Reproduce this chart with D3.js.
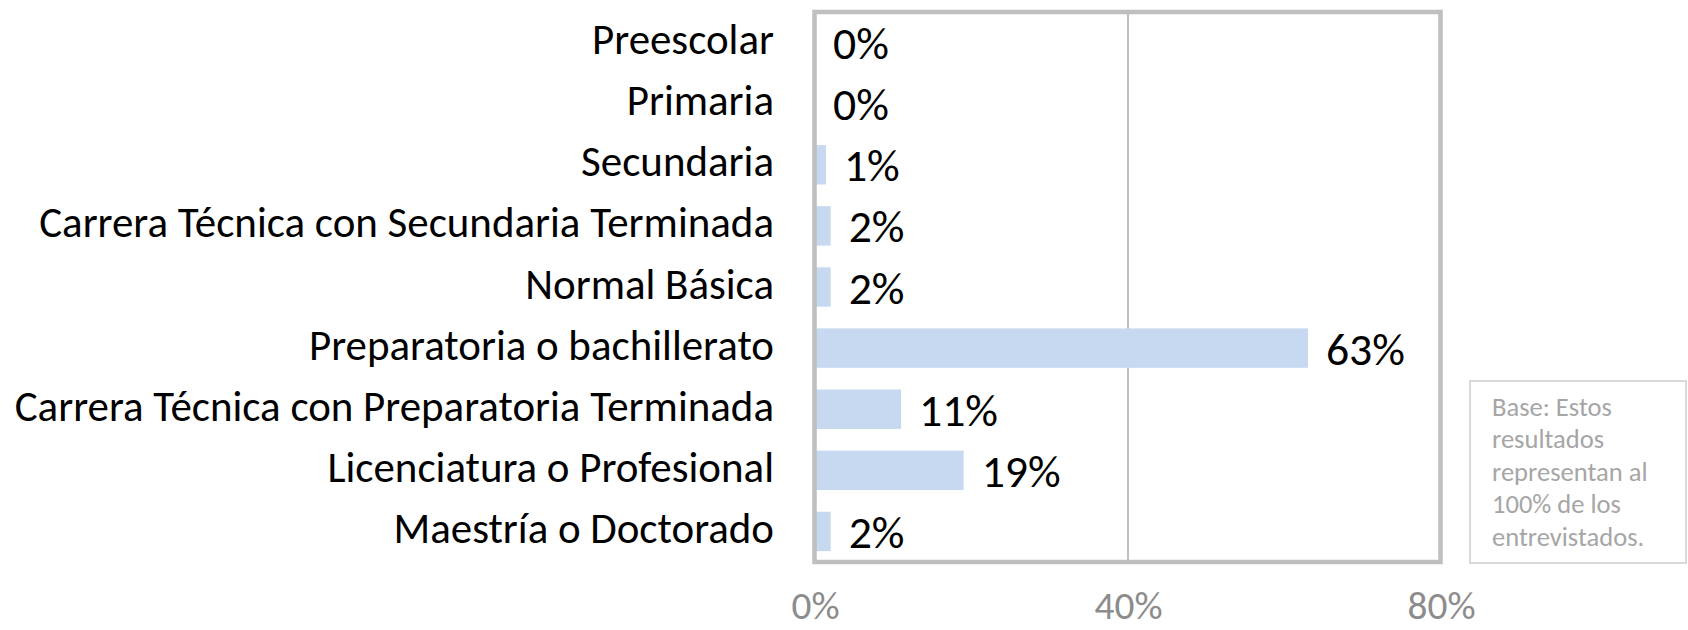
<!DOCTYPE html>
<html>
<head>
<meta charset="utf-8">
<script src="https://cdn.jsdelivr.net/npm/d3@7"></script>
<style>
  html, body { margin: 0; padding: 0; background: #fff; }
  svg { display: block; }
  text { font-family: Carlito, Calibri, Lato, sans-serif; }
</style>
</head>
<body>
<div id="chart"></div>
<script>
// data
var categories = [
  'Preescolar',
  'Primaria',
  'Secundaria',
  'Carrera Técnica con Secundaria Terminada',
  'Normal Básica',
  'Preparatoria o bachillerato',
  'Carrera Técnica con Preparatoria Terminada',
  'Licenciatura o Profesional',
  'Maestría o Doctorado'
];
var values = [0, 0, 1.4, 2, 2, 63, 11, 19, 2];
var tickValues = [0, 40, 80];
var noteLines = ['Base: Estos', 'resultados', 'representan al', '100% de los', 'entrevistados.'];

var w = 1688, h = 630;

var svg = d3.select('#chart').append('svg')
  .attr('width', w)
  .attr('height', h);

// pick a font size so that a sample string gets a given width
var fitSize = function(sample, target) {
  var t = svg.append('text').attr('font-size', 100).text(sample);
  var len = t.node().getComputedTextLength();
  t.remove();
  return 100 * target / len;
};

var catSize = fitSize('Carrera Técnica con Secundaria Terminada', 735);
var valSize = fitSize('63%', 79);
var tickSize = fitSize('40%', 68);
var noteStep = 32.4;
var noteSize = Math.min(fitSize('representan al', 180), noteStep / 1.22);

var x = d3.scaleLinear()
  .domain([0, 80])
  .range([815, 1441]);

var y = d3.scaleBand()
  .domain(categories)
  .range([12, 562])
  .paddingInner(0.355)
  .paddingOuter(0.1775);

// gridline at 40%
svg.append('g')
  .selectAll('line')
  .data(tickValues.slice(1, -1))
  .enter()
  .append('line')
  .attr('x1', function(d) { return x(d); })
  .attr('x2', function(d) { return x(d); })
  .attr('y1', 12)
  .attr('y2', 562)
  .style('stroke', '#bfbfbf')
  .style('stroke-width', 2);

// bars
svg.append('g')
  .selectAll('rect')
  .data(values)
  .enter()
  .append('rect')
  .attr('x', x(0))
  .attr('y', function(d, i) { return y(categories[i]); })
  .attr('width', function(d) { return x(d) - x(0); })
  .attr('height', y.bandwidth())
  .style('fill', '#c6d9f1');

// frame round the plot
svg.append('rect')
  .attr('x', x(0) - 0.5)
  .attr('y', 12)
  .attr('width', x(80) - x(0))
  .attr('height', 550)
  .style('fill', 'none')
  .style('stroke', '#bfbfbf')
  .style('stroke-width', 4.5);

// value labels
svg.append('g')
  .selectAll('text')
  .data(values)
  .enter()
  .append('text')
  .attr('x', function(d) { return x(d) + 18; })
  .attr('y', function(d, i) { return y(categories[i]) + y.bandwidth() / 2 + 16.5; })
  .attr('font-size', valSize)
  .style('fill', '#000')
  .text(function(d) { return Math.round(d) + '%'; });

// category labels
svg.append('g')
  .selectAll('text')
  .data(categories)
  .enter()
  .append('text')
  .attr('x', 774)
  .attr('y', function(d) { return y(d) + y.bandwidth() / 2 + 11.5; })
  .attr('text-anchor', 'end')
  .attr('font-size', catSize)
  .style('fill', '#000')
  .text(function(d) { return d; });

// x axis
var axis = svg.append('g')
  .attr('transform', 'translate(0,562)')
  .call(d3.axisBottom(x)
    .tickValues(tickValues)
    .tickSize(0)
    .tickFormat(function(d) { return d + '%'; }));

axis.select('.domain').remove();
axis.selectAll('text')
  .attr('y', 57)
  .attr('dy', 0)
  .attr('font-size', tickSize)
  .attr('font-family', null)
  .style('fill', '#8c8c8c');

// note box
svg.append('rect')
  .attr('x', 1470)
  .attr('y', 381)
  .attr('width', 216)
  .attr('height', 182)
  .style('fill', '#fff')
  .style('stroke', '#d9d9d9')
  .style('stroke-width', 2);

svg.append('g')
  .selectAll('text')
  .data(noteLines)
  .enter()
  .append('text')
  .attr('x', 1492)
  .attr('y', function(d, i) { return 416 + i * noteStep; })
  .attr('font-size', noteSize)
  .style('fill', '#a6a6a6')
  .text(function(d) { return d; });
</script>
</body>
</html>
